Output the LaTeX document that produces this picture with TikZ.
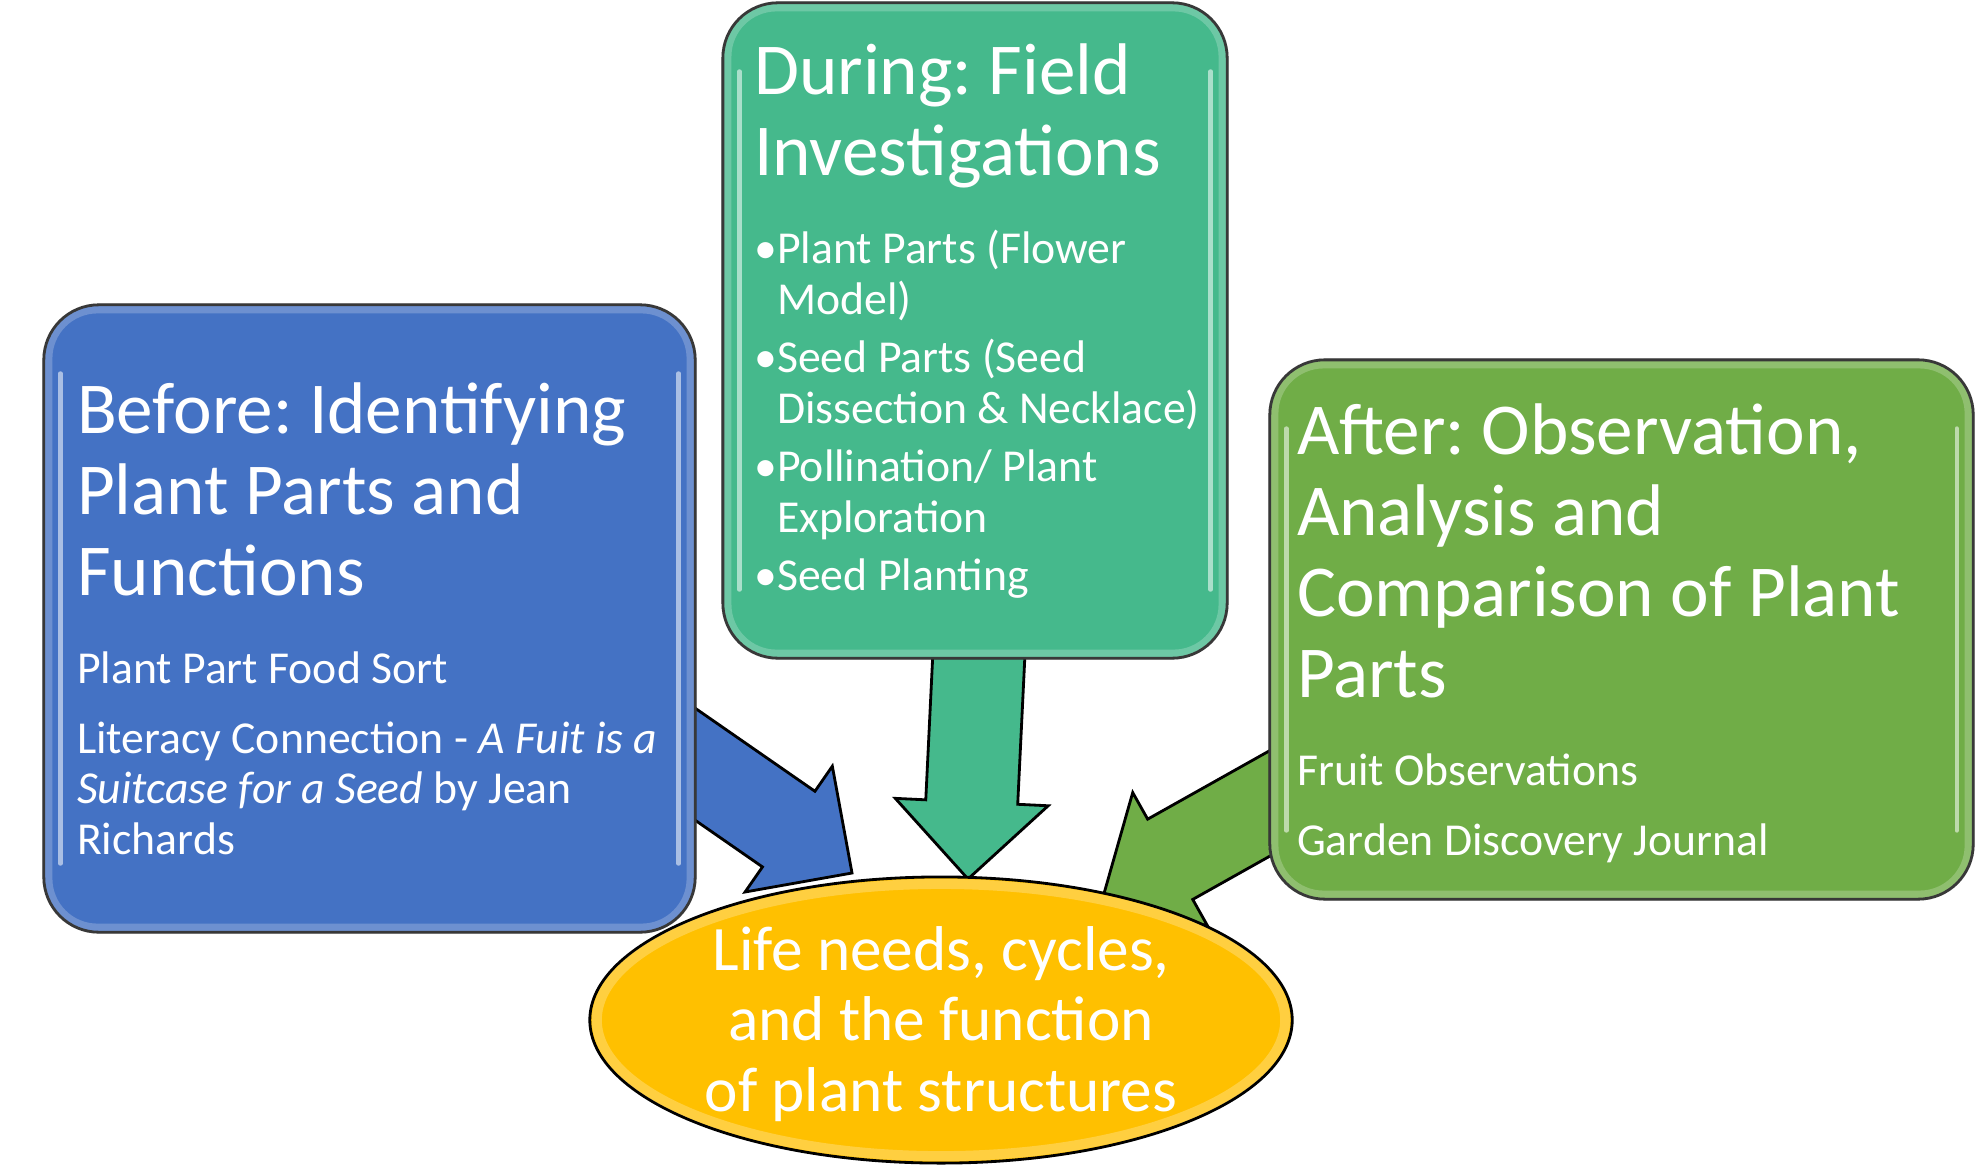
\documentclass[tikz,border=0pt]{standalone}
\usepackage{fontspec}
\setmainfont{Carlito}
\usepackage{tikz}
\usetikzlibrary{calc,positioning,shapes.geometric,backgrounds}
\frenchspacing

\definecolor{plantblue}{HTML}{4472C4}
\definecolor{planteal}{HTML}{45B98C}
\definecolor{plantgreen}{HTML}{70AD47}
\definecolor{plantgold}{HTML}{FFC000}

% big heading inside a stage box, then a gap before the body lines
\newcommand{\stagetitle}[1]{\spaceskip=0pt\xspaceskip=0pt{\fontsize{20.8}{23}\selectfont #1\par}\vspace{10.9pt}}
\newcommand{\stagebullet}{\makebox[0.23cm][l]{\textbullet}}
\newcommand{\stagehang}{\hspace*{0.23cm}}

% fat arrow from #2 to #3, filled with #1
\newcommand{\blockarrow}[3]{%
  \coordinate (ah) at ($(#3)!0.77cm!(#2)$);
  \filldraw[arrowbody, fill=#1]
    ($(#2)!0.46cm!90:(#3)$) -- ($(ah)!0.46cm!90:(#3)$) -- ($(ah)!0.765cm!90:(#3)$)
    -- (#3) -- ($(ah)!0.765cm!-90:(#3)$) -- ($(ah)!0.46cm!-90:(#3)$)
    -- ($(#2)!0.46cm!-90:(#3)$) -- cycle;
}

\begin{document}
\begin{tikzpicture}[x=0.01cm, y=-0.01cm,
  stage/.style={rectangle, draw=black, line width=0.8pt, rounded corners=0.55cm, inner sep=0pt},
  stagetext/.style={text=white, align=left, inner sep=0pt, anchor=base west, font=\fontsize{13}{14.3}\selectfont},
  lifetext/.style={text=white, align=center, inner sep=0pt, yshift=-0.04cm, font=\fontsize{18}{20}\selectfont},
  arrowbody/.style={draw=black, line width=0.8pt, line join=miter},
  rim/.style={white, opacity=0.22, line width=0.1cm, rounded corners=0.5cm},
  gloss/.style={white, opacity=0.55, line width=1.2pt, line cap=round}]
\useasboundingbox (0,0) rectangle (1980,1170);

% the three stages
\node[stage, fill=plantblue, minimum width=6.51cm, minimum height=6.27cm] (before) at (369.5,618.5) {};
\node[stage, fill=planteal, minimum width=5.04cm, minimum height=6.55cm] (during) at (975,330.5) {};
\node[stage, fill=plantgreen, minimum width=7.03cm, minimum height=5.39cm] (after) at (1621.5,629.5) {};

\foreach \b in {before,during,after} {
  \draw[rim] ($(\b.north west)+(5,5)$) rectangle ($(\b.south east)+(-5,-5)$);
  \draw[gloss] ($(\b.north west)+(18,70)$) -- ($(\b.south west)+(18,-70)$);
  \draw[gloss] ($(\b.north east)+(-18,70)$) -- ($(\b.south east)+(-18,-70)$);
}

\node[stagetext, text width=6.3cm] (before-text) at ($(before.north west)+(34,130)$)
  {\stagetitle{Before: Identifying\\Plant Parts and\\Functions}
   Plant Part Food Sort\\[5.5pt]
   Literacy Connection - \emph{A Fuit is a}\\
   \emph{Suitcase for a Seed} by Jean\\
   Richards};

\node[stagetext, text width=4.7cm] (during-text) at ($(during.north west)+(32,93)$)
  {\stagetitle{During: Field\\Investigations}
   \stagebullet Plant Parts (Flower\\
   \stagehang Model)\\[2.4pt]
   \stagebullet Seed Parts (Seed\\
   \stagehang Dissection \& Necklace)\\[2.4pt]
   \stagebullet Pollination/ Plant\\
   \stagehang Exploration\\[2.4pt]
   \stagebullet Seed Planting};

\node[stagetext, text width=6.6cm] (after-text) at ($(after.north west)+(28,96)$)
  {\stagetitle{After: Observation,\\Analysis and\\Comparison of Plant\\Parts}
   Fruit Observations\\[5.5pt]
   Garden Discovery Journal};

% centre
\node[ellipse, draw=black, line width=0.8pt, fill=plantgold, inner sep=0pt,
      minimum width=7.02cm, minimum height=2.86cm,
      label={[lifetext]center:{Life needs, cycles,\\and the function\\of plant structures}}] (life) at (941,1020) {};
\draw[white, opacity=0.25, line width=0.1cm] (life.center) ellipse [x radius=3.44cm, y radius=1.36cm];

% arrows into the centre
\coordinate (b-from) at ($(before.east)+(-32,124.5)$);
\coordinate (b-tip) at ($(life.center)+(-89,-147)$);
\coordinate (d-from) at ($(during.south)+(4.5,-18)$);
\coordinate (d-tip) at ($(life.center)+(27,-141)$);
\coordinate (a-from) at ($(after.west)+(35,155)$);
\coordinate (a-tip) at ($(life.center)+(162,-123)$);
\begin{scope}[on background layer]
  \blockarrow{plantblue}{b-from}{b-tip}
  \blockarrow{planteal}{d-from}{d-tip}
  \blockarrow{plantgreen}{a-from}{a-tip}
\end{scope}

\end{tikzpicture}
\end{document}
